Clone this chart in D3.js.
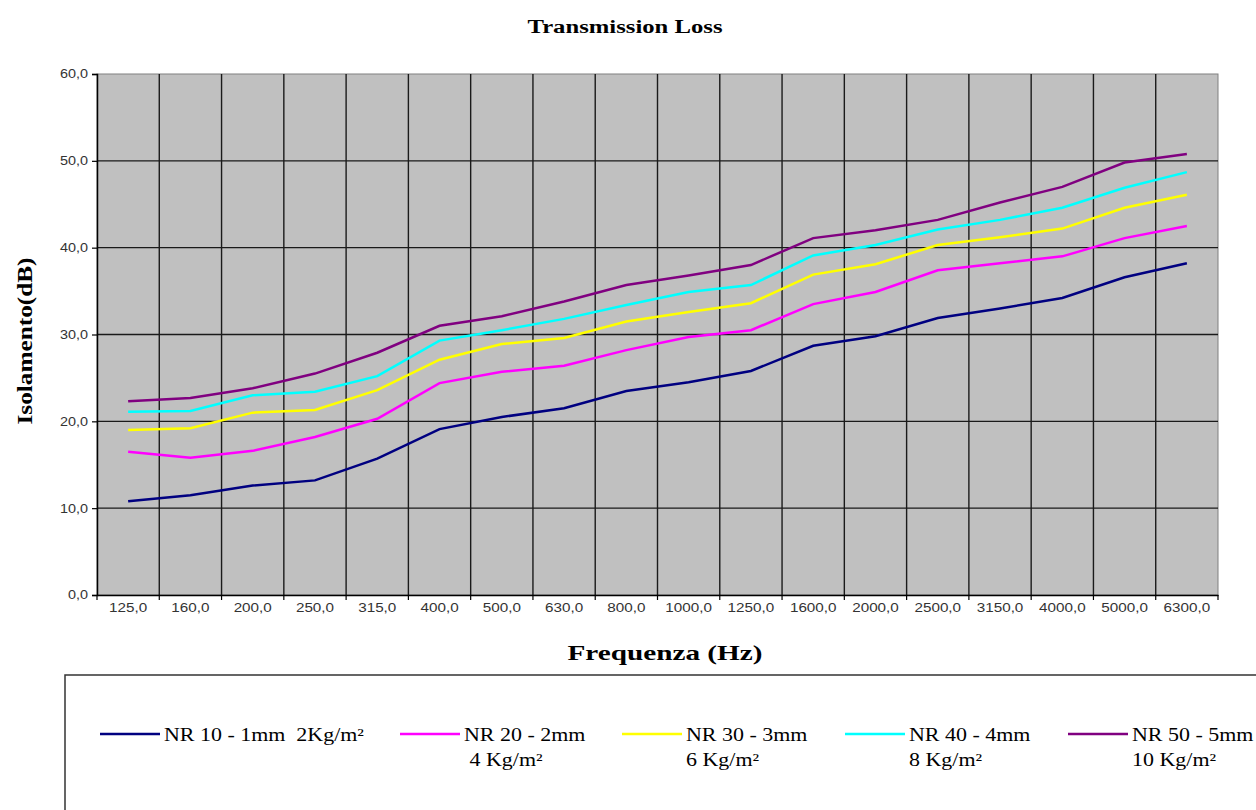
<!DOCTYPE html>
<html><head><meta charset="utf-8">
<script src="https://cdn.jsdelivr.net/npm/d3@7"></script>
<style>body{margin:0;background:#fff}svg{display:block}</style>
</head><body>
<script>
const categories = ["125,0","160,0","200,0","250,0","315,0","400,0","500,0","630,0","800,0","1000,0","1250,0","1600,0","2000,0","2500,0","3150,0","4000,0","5000,0","6300,0"];
const nr10 = [10.8,11.5,12.6,13.2,15.7,19.1,20.5,21.5,23.5,24.5,25.8,28.7,29.8,31.9,33.0,34.2,36.6,38.2];
const nr20 = [16.5,15.8,16.6,18.2,20.3,24.4,25.7,26.4,28.2,29.7,30.5,33.5,34.9,37.4,38.2,39.0,41.1,42.5];
const nr30 = [19.0,19.2,21.0,21.3,23.6,27.1,28.9,29.6,31.5,32.6,33.6,36.9,38.1,40.3,41.2,42.2,44.6,46.1];
const nr40 = [21.1,21.2,23.0,23.4,25.2,29.3,30.5,31.8,33.4,34.9,35.7,39.1,40.3,42.1,43.2,44.6,46.9,48.7];
const nr50 = [22.3,22.7,23.8,25.5,27.9,31.0,32.1,33.8,35.7,36.8,38.0,41.1,42.0,43.2,45.2,47.0,49.8,50.8];
const yTicks = [0,10,20,30,40,50,60];
const seriesNames = [["NR 10 - 1mm  2Kg/m²"],["NR 20 - 2mm"," 4 Kg/m²"],["NR 30 - 3mm","6 Kg/m²"],["NR 40 - 4mm","8 Kg/m²"],["NR 50 - 5mm","10 Kg/m²"]];
const seriesColors = ["#000080","#ff00ff","#ffff00","#00ffff","#800080"];
const seriesValues = [nr10,nr20,nr30,nr40,nr50];

const W=1256,H=810;
const svg=d3.select("body").append("svg").attr("width",W).attr("height",H);
const L=97,R=1218,T=74,B=595;
const x=d3.scaleBand().domain(categories).range([L,R]).padding(0);
const y=d3.scaleLinear().domain([0,60]).range([B,T]);
const SERIF="Liberation Serif, Times New Roman, serif";
const SANS="Liberation Sans, Arial, sans-serif";

function stretch(sel,f){
  sel.each(function(){
    const n=this.getComputedTextLength();
    d3.select(this).attr("textLength",n*f).attr("lengthAdjust","spacingAndGlyphs");
  });
}

svg.append("rect").attr("x",L).attr("y",T).attr("width",R-L).attr("height",B-T).attr("fill","#c0c0c0").attr("stroke","#808080").attr("stroke-width",1);

const g=svg.append("g");
categories.slice(1).forEach(c=>{
  g.append("line").attr("x1",x(c)).attr("x2",x(c)).attr("y1",T).attr("y2",B).attr("stroke","#1a1a1a").attr("stroke-width",1.4);
});
yTicks.filter(v=>v>0&&v<60).forEach(v=>{
  g.append("line").attr("x1",L).attr("x2",R).attr("y1",y(v)).attr("y2",y(v)).attr("stroke","#1a1a1a").attr("stroke-width",1.4);
});

const ya=svg.append("g").attr("transform",`translate(${L},0)`)
 .call(d3.axisLeft(y).tickValues(yTicks).tickSize(5).tickPadding(4).tickFormat(d=>d3.format(".1f")(d).replace(".",",")));
ya.select(".domain").attr("stroke","#000").attr("stroke-width",1.5);
ya.selectAll(".tick line").attr("stroke","#000").attr("stroke-width",1.2);
ya.selectAll("text").attr("font-family",SANS).attr("font-size",12).attr("fill","#333");
stretch(ya.selectAll("text"),1.2);

const xa=svg.append("g").attr("transform",`translate(0,${B})`)
 .call(d3.axisBottom(x).tickSize(0).tickPadding(8));
xa.select(".domain").attr("stroke","#000").attr("stroke-width",1.5);
xa.selectAll("text").attr("font-family",SANS).attr("font-size",12).attr("fill","#333");
stretch(xa.selectAll("text"),1.27);
categories.forEach(c=>{
  xa.append("line").attr("x1",x(c)).attr("x2",x(c)).attr("y1",0).attr("y2",5).attr("stroke","#000").attr("stroke-width",1.2);
});
xa.append("line").attr("x1",R).attr("x2",R).attr("y1",0).attr("y2",5).attr("stroke","#000").attr("stroke-width",1.2);

const line=d3.line().x((d,i)=>x(categories[i])+x.bandwidth()/2).y(d=>y(d));
seriesValues.forEach((vals,k)=>{
  svg.append("path").datum(vals).attr("d",line).attr("fill","none").attr("stroke",seriesColors[k]).attr("stroke-width",2.5);
});

svg.append("text").attr("x",625).attr("y",33).attr("text-anchor","middle")
 .attr("font-family",SERIF).attr("font-weight","bold").attr("font-size",18)
 .attr("textLength",195).attr("lengthAdjust","spacingAndGlyphs").text("Transmission Loss");
svg.append("text").attr("transform","translate(32,341) rotate(-90)").attr("text-anchor","middle")
 .attr("font-family",SERIF).attr("font-weight","bold").attr("font-size",22)
 .attr("textLength",167).attr("lengthAdjust","spacingAndGlyphs").text("Isolamento(dB)");
svg.append("text").attr("x",665).attr("y",660).attr("text-anchor","middle")
 .attr("font-family",SERIF).attr("font-weight","bold").attr("font-size",22)
 .attr("textLength",195).attr("lengthAdjust","spacingAndGlyphs").text("Frequenza (Hz)");

svg.append("rect").attr("x",65).attr("y",675).attr("width",1240).attr("height",200).attr("fill","#fff").attr("stroke","#333").attr("stroke-width",1.5);
const legX=[100,400,622,845,1068];
seriesNames.forEach((names,k)=>{
  const lx=legX[k];
  svg.append("line").attr("x1",lx).attr("x2",lx+60).attr("y1",734).attr("y2",734).attr("stroke",seriesColors[k]).attr("stroke-width",2.5);
  names.forEach((t,j)=>{
    const tx=svg.append("text").attr("x",lx+64).attr("y",741+j*25).attr("xml:space","preserve").style("white-space","pre")
     .attr("font-family",SERIF).attr("font-size",18).attr("fill","#000").text(t);
    stretch(tx,1.22);
  });
});
</script>
</body></html>
